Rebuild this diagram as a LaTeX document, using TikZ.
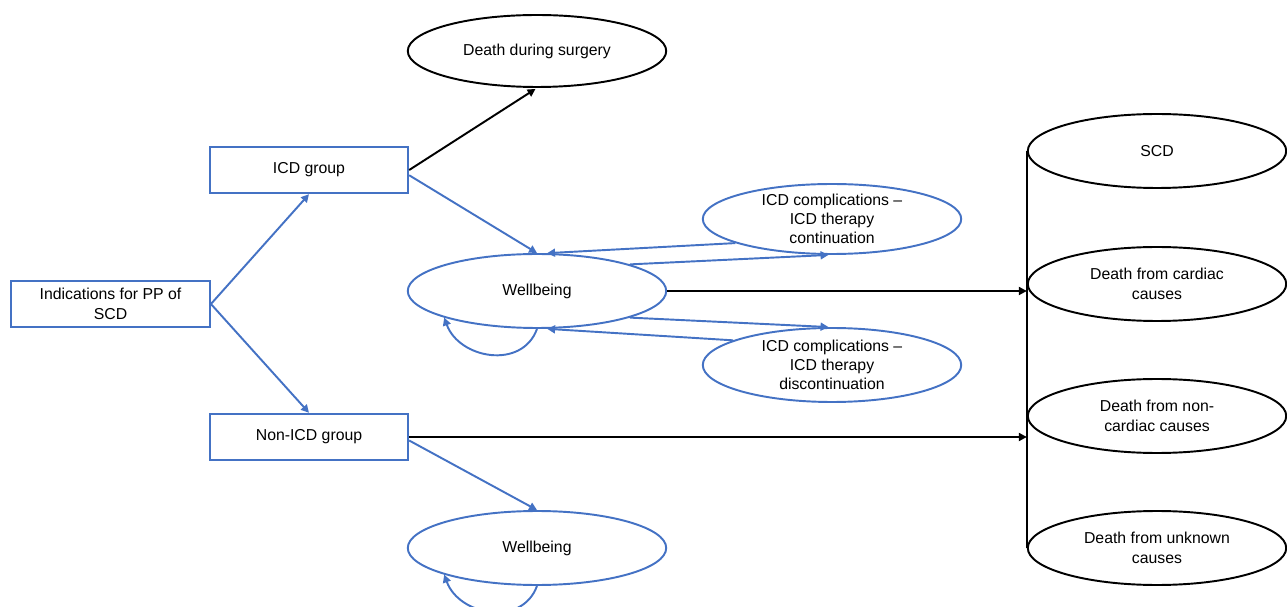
\documentclass[tikz,border=0pt]{standalone}
\usepackage{fontspec}
\setmainfont{Liberation Sans}
\usepackage{xcolor}
\definecolor{darkblue}{RGB}{68,114,196}
\usepackage{tikz}
\usetikzlibrary{shapes.geometric}
\usetikzlibrary{arrows.meta}
\newcommand{\widthgroup}{3.97cm}
\newcommand{\widthstate}{5.17cm}
\newcommand{\heightstate}{1.48cm}
\tikzset{
    common/.style={draw, align=center, font=\fontsize{9}{11}\selectfont, line width=1.1pt},
    group/.style={common, darkblue, text=black, rectangle, minimum width=\widthgroup, minimum height=0.93cm},
    state/.style={common, darkblue, text=black, ellipse, inner sep=0pt, minimum width=\widthstate, minimum height=\heightstate},
    complication/.style={state, inner ysep=-2pt},
    outcome/.style={common, black, ellipse, inner sep=0pt, minimum width=\widthstate, minimum height=\heightstate},
    blue-link/.style={darkblue, line width=1.1pt, -{Triangle[length=4.5pt, width=4.5pt]}},
    black-link/.style={black, line width=1.1pt, -{Triangle[length=4.5pt, width=4.5pt]}}
}

\begin{document}
\begin{tikzpicture}[x=0.02cm, y=-0.02cm]
      \useasboundingbox (0,0) rectangle (1287,607);

      \path
          (110.5,304) node[group, minimum width=3.98cm] (indications) {Indications for PP of\\SCD}
          (309,170) node[group] (icd) {ICD group}
          (309,437) node[group] (non-icd) {Non-ICD group};

      \path
          (537,51) node[outcome, minimum height=1.44cm] (surgery) {Death during surgery}
          (537,291) node[state] (wellbeing-icd) {Wellbeing}
          (537,548) node[state] (wellbeing-non-icd) {Wellbeing}
          (832,219) node[complication, minimum height=1.4cm] (continuation) {ICD complications --\\ICD therapy\\continuation}
          (832,365) node[complication] (discontinuation) {ICD complications --\\ICD therapy\\discontinuation};

      \path
          (1157,151) node[outcome] (scd) {SCD}
          (1157,284) node[outcome] (cardiac) {Death from cardiac\\causes}
          (1157,416) node[outcome] (non-cardiac) {Death from non-\\cardiac causes}
          (1157,548) node[outcome] (unknown) {Death from unknown\\causes};

      \draw[line width=1.1pt] (scd.west) -- (unknown.west);

      \draw[blue-link] (indications.east) -- (icd.south);
      \draw[blue-link] (indications.east) -- (non-icd.north);
      \draw[black-link, shorten >=1pt] (icd.east) -- (surgery.south);
      \draw[blue-link] ([yshift=-3pt]icd.east) -- (wellbeing-icd.north);
      \draw[blue-link] (continuation.194) -- (wellbeing-icd.75);
      \draw[blue-link] (wellbeing-icd.16) -- ([xshift=-2pt]continuation.south);
      \draw[blue-link] (wellbeing-icd.-16) -- ([xshift=-2pt]discontinuation.north);
      \draw[blue-link] (discontinuation.166) -- (wellbeing-icd.-75);
      \draw[blue-link] (wellbeing-icd.south) to[out=-110, in=-70, looseness=1.2] (wellbeing-icd.196);
      \draw[black-link] (wellbeing-icd.east) -- (wellbeing-icd.east -| scd.west);

      \draw[black-link] (non-icd.east) -- (non-icd.east -| scd.west);
      \draw[blue-link] ([yshift=-2pt]non-icd.east) -- (wellbeing-non-icd.north);
      \draw[blue-link] (wellbeing-non-icd.south) to[out=-110, in=-70, looseness=1.2] (wellbeing-non-icd.196);
    \end{tikzpicture}
\end{document}
